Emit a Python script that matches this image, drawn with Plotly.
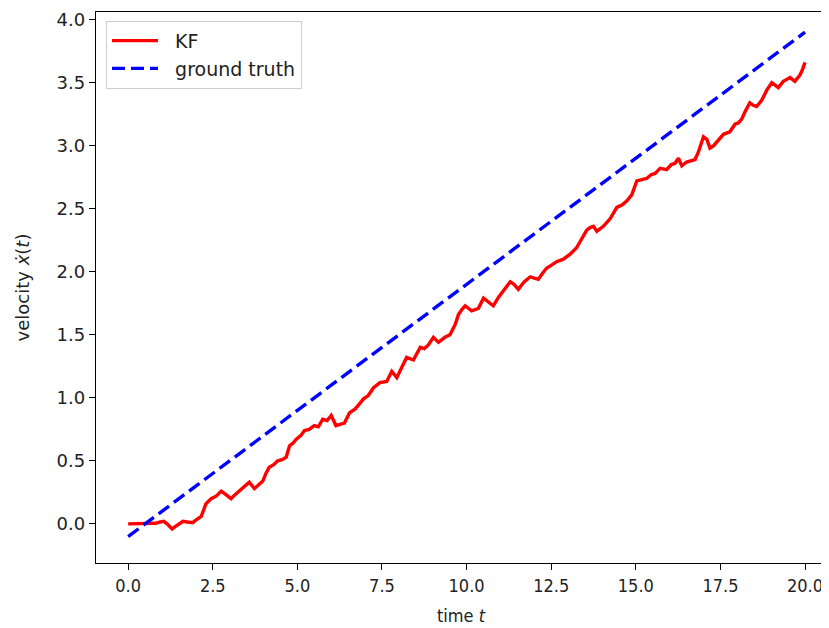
import plotly.graph_objects as go

# KF estimate
kf_t = [0.0, 0.3, 0.6, 0.8, 0.95, 1.05, 1.15, 1.3, 1.4, 1.5, 1.62, 1.75, 1.91, 2.0, 2.16, 2.3, 2.45, 2.6, 2.75, 2.9,
        3.04, 3.15, 3.29, 3.45, 3.58, 3.73, 3.85, 3.98, 4.07, 4.17, 4.3, 4.42, 4.55, 4.67, 4.77, 4.87, 4.96, 5.1, 5.21, 5.35,
        5.5, 5.62, 5.75, 5.88, 6.0, 6.14, 6.26, 6.39, 6.54, 6.7, 6.83, 6.95, 7.1, 7.25, 7.44, 7.64, 7.79, 7.94, 8.1, 8.23,
        8.43, 8.63, 8.75, 8.87, 9.02, 9.17, 9.36, 9.51, 9.66, 9.76, 9.86, 9.96, 10.15, 10.35, 10.5, 10.65, 10.79, 10.95, 11.09, 11.29,
        11.4, 11.53, 11.7, 11.88, 12.0, 12.12, 12.25, 12.37, 12.5, 12.66, 12.86, 13.06, 13.25, 13.45, 13.55, 13.65, 13.75, 13.85, 14.04, 14.24,
        14.44, 14.6, 14.73, 14.88, 15.03, 15.18, 15.32, 15.45, 15.57, 15.72, 15.91, 16.05, 16.16, 16.26, 16.36, 16.5, 16.6, 16.75, 16.85, 16.95,
        17.0, 17.1, 17.19, 17.3, 17.39, 17.49, 17.59, 17.78, 17.93, 18.03, 18.13, 18.23, 18.37, 18.47, 18.57, 18.72, 18.87, 19.02, 19.11, 19.21,
        19.36, 19.56, 19.7, 19.85, 19.92, 20.0]
kf_v = [0.0, 0.0, 0.0, 0.005, 0.015, 0.02, 0.0, -0.04, -0.02, 0.0, 0.02, 0.015, 0.01, 0.03, 0.06, 0.16, 0.2, 0.22, 0.26, 0.23,
        0.2, 0.23, 0.26, 0.3, 0.33, 0.28, 0.31, 0.34, 0.4, 0.45, 0.47, 0.5, 0.51, 0.53, 0.62, 0.64, 0.67, 0.7, 0.74, 0.75,
        0.78, 0.77, 0.83, 0.82, 0.86, 0.78, 0.79, 0.80, 0.88, 0.91, 0.95, 0.99, 1.02, 1.08, 1.12, 1.13, 1.21, 1.16, 1.25, 1.32,
        1.30, 1.40, 1.39, 1.42, 1.48, 1.44, 1.48, 1.50, 1.58, 1.66, 1.70, 1.73, 1.69, 1.71, 1.79, 1.76, 1.73, 1.80, 1.85, 1.92,
        1.90, 1.86, 1.92, 1.96, 1.95, 1.94, 1.99, 2.03, 2.05, 2.08, 2.10, 2.14, 2.19, 2.29, 2.33, 2.35, 2.36, 2.32, 2.36, 2.42,
        2.51, 2.53, 2.56, 2.61, 2.72, 2.73, 2.74, 2.77, 2.78, 2.82, 2.81, 2.85, 2.86, 2.90, 2.84, 2.87, 2.88, 2.89, 2.95, 3.03,
        3.07, 3.05, 2.98, 3.00, 3.03, 3.06, 3.09, 3.11, 3.17, 3.18, 3.21, 3.27, 3.34, 3.32, 3.31, 3.36, 3.44, 3.50, 3.48, 3.46,
        3.51, 3.54, 3.51, 3.56, 3.60, 3.66]

# ground truth
gt_t = [0.0, 20.0]
gt_v = [-0.1, 3.9]

x_ticks = [0.0, 2.5, 5.0, 7.5, 10.0, 12.5, 15.0, 17.5, 20.0]
y_ticks = [0.0, 0.5, 1.0, 1.5, 2.0, 2.5, 3.0, 3.5, 4.0]

FONT = "DejaVu Sans"
XFONT = "DejaVu Sans Condensed, Liberation Sans Narrow, DejaVu Sans"
FS = 18
NB = "\u00a0\u00a0"

fig = go.Figure()
fig.add_trace(go.Scatter(x=kf_t, y=kf_v, mode="lines", name=NB + "KF",
                         line=dict(color="red", width=3.4)))
fig.add_trace(go.Scatter(x=gt_t, y=gt_v, mode="lines", name=NB + "ground truth",
                         line=dict(color="blue", width=3.4, dash="13px,6px")))

axis_common = dict(showgrid=False, zeroline=False, showline=True, linecolor="black", linewidth=1.3,
                   mirror=True, ticks="outside", ticklen=6, tickwidth=1.3, tickcolor="black",
                   ticklabeloverflow="allow")

fig.update_layout(
    width=829, height=628,
    margin=dict(l=88, r=11, t=1, b=73),
    paper_bgcolor="white", plot_bgcolor="white",
    font=dict(family=FONT, size=FS, color="#222"),
    xaxis=dict(range=[-0.95, 20.62], tickvals=x_ticks, ticktext=[f"{v:.1f}" for v in x_ticks],
               tickfont=dict(family=XFONT, size=FS, color="#222"),
               title=dict(text="time <i>t</i>", standoff=14, font=dict(family=XFONT, size=FS)), **axis_common),
    yaxis=dict(range=[-0.31, 4.06], tickvals=y_ticks, ticktext=[f"{v:.1f}" for v in y_ticks],
               tickfont=dict(family=FONT, size=FS, color="#222"),
               title=dict(text="velocity <i>ẋ</i>(<i>t</i>)", standoff=22, font=dict(family=FONT, size=FS)), **axis_common),
    legend=dict(x=0.0137, y=0.984, xanchor="left", yanchor="top", bgcolor="rgba(255,255,255,0.8)",
                bordercolor="#cccccc", borderwidth=1, itemwidth=46,
                font=dict(family=FONT, size=19, color="#222")),
    showlegend=True,
)

fig.write_html("out.html")
